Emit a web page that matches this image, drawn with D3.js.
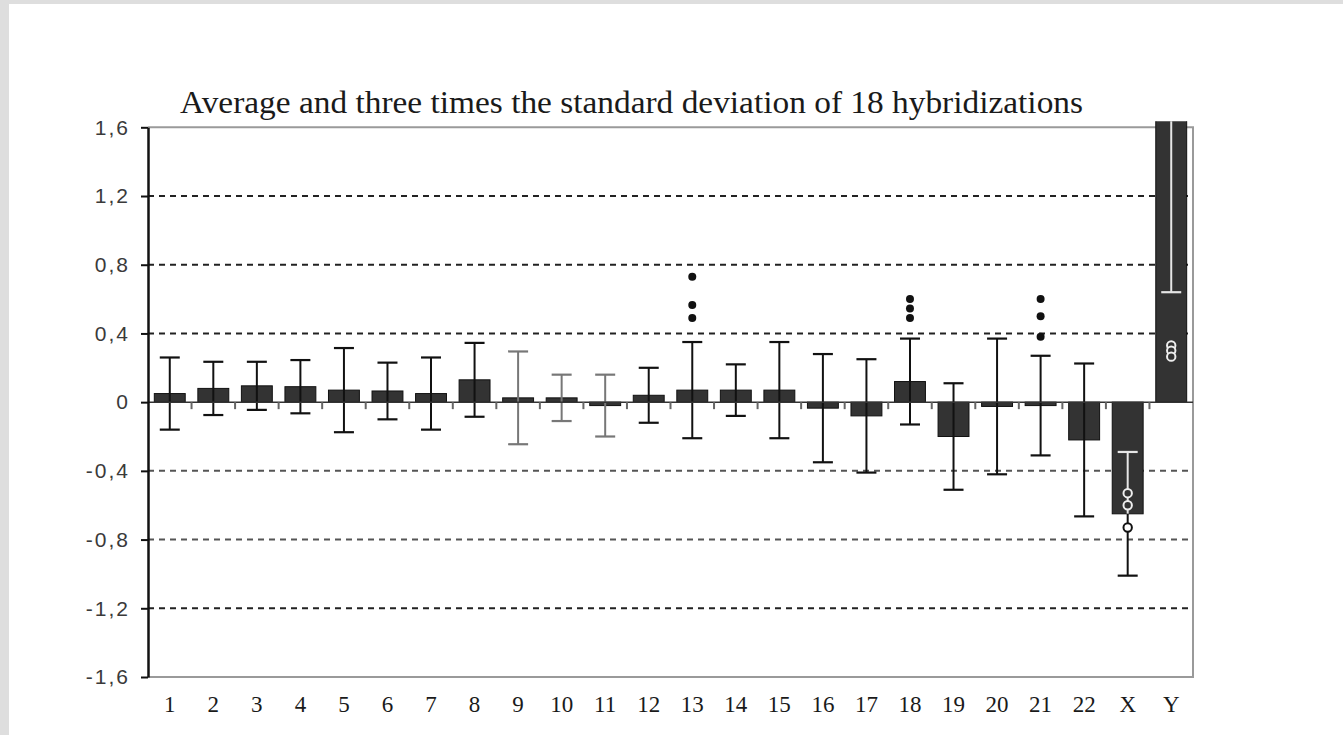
<!DOCTYPE html>
<html>
<head>
<meta charset="utf-8">
<script src="https://cdn.jsdelivr.net/npm/d3@7"></script>
<style>
  body { margin: 0; background: #dedede; }
  svg { display: block; }
</style>
</head>
<body>
<svg id="canvas" width="1343" height="735"></svg>
<script>
let categories = ['1','2','3','4','5','6','7','8','9','10','11','12','13','14','15','16','17','18','19','20','21','22','X','Y'];
// average log ratio per chromosome
let means = [0.05, 0.08, 0.095, 0.09, 0.07, 0.065, 0.05, 0.13, 0.025, 0.025, -0.02, 0.04,
  0.07, 0.07, 0.07, -0.035, -0.08, 0.12, -0.2, -0.025, -0.02, -0.22, -0.65, 1.95];
// three times the standard deviation
let errs = [0.21, 0.155, 0.14, 0.155, 0.245, 0.165, 0.21, 0.215, 0.27, 0.135, 0.18, 0.16,
  0.28, 0.15, 0.28, 0.315, 0.33, 0.25, 0.31, 0.395, 0.29, 0.445, 0.36, 1.31];
// single hybridizations outside the range
let outlierCats = ['13','13','13','18','18','18','21','21','21','X','X','X','Y','Y','Y'];
let outlierValues = [0.73, 0.565, 0.49, 0.6, 0.545, 0.49, 0.6, 0.5, 0.38, -0.53, -0.6, -0.73, 0.33, 0.3, 0.265];
let yTicks = [-1.6, -1.2, -0.8, -0.4, 0, 0.4, 0.8, 1.2, 1.6];
let title = 'Average and three times the standard deviation of 18 hybridizations';

let plotLeft = 148, plotRight = 1193, plotTop = 127.3, plotBottom = 677;

let canvas = d3.select('#canvas');

// page background
canvas.append('rect').attr('x', 9).attr('y', 4).attr('width', 1343).attr('height', 735).attr('fill', '#fff');

let x = d3.scaleBand().domain(categories).range([plotLeft, plotRight]).paddingInner(0.29).paddingOuter(0.145);
let y = d3.scaleLinear().domain([-1.6, 1.6]).range([plotBottom, plotTop]);

let data = categories.map((c, i) => ({ cat: c, mean: means[i], err: errs[i] }));
let outliers = outlierCats.map((c, i) => ({ cat: c, value: outlierValues[i] }));

canvas.append('clipPath').attr('id', 'clip')
  .append('rect').attr('x', plotLeft).attr('y', plotTop - 6)
  .attr('width', plotRight - plotLeft).attr('height', plotBottom - plotTop + 6);

// title
canvas.append('text')
  .attr('x', 180).attr('y', 113)
  .attr('font-family', '"Liberation Serif", "Times New Roman", serif')
  .attr('font-size', 32)
  .attr('textLength', 903)
  .attr('lengthAdjust', 'spacingAndGlyphs')
  .attr('fill', '#1a1a1a')
  .text(title);

// dashed grid lines
canvas.selectAll('.grid')
  .data(yTicks.filter(d => d !== 0 && Math.abs(d) < 1.6))
  .enter()
  .append('line')
  .attr('class', 'grid')
  .attr('x1', plotLeft).attr('x2', plotRight)
  .attr('y1', d => y(d)).attr('y2', d => y(d))
  .attr('stroke', d => (d < 0 && d > -1) ? '#555' : '#222')
  .attr('stroke-width', 2)
  .attr('stroke-dasharray', '6,5');

// frame
canvas.append('path')
  .attr('d', `M${plotLeft},${plotTop}H${plotRight}V${plotBottom}H${plotLeft}`)
  .attr('fill', 'none')
  .attr('stroke', '#9a9a9a')
  .attr('stroke-width', 2);

let plot = canvas.append('g').attr('clip-path', 'url(#clip)');

// bars
plot.selectAll('.bar')
  .data(data)
  .enter()
  .append('rect')
  .attr('class', 'bar')
  .attr('x', d => x(d.cat))
  .attr('width', x.bandwidth())
  .attr('y', d => y(Math.max(0, d.mean)))
  .attr('height', d => Math.abs(y(d.mean) - y(0)))
  .attr('fill', '#333')
  .attr('stroke', '#111')
  .attr('stroke-width', 1);

// zero line with ticks between chromosomes
canvas.append('line')
  .attr('x1', plotLeft).attr('x2', plotRight)
  .attr('y1', y(0)).attr('y2', y(0))
  .attr('stroke', '#333').attr('stroke-width', 1.5);
canvas.selectAll('.ztick')
  .data(categories.slice(1))
  .enter()
  .append('line')
  .attr('class', 'ztick')
  .attr('x1', d => x(d) - x.step() * x.paddingInner() / 2)
  .attr('x2', d => x(d) - x.step() * x.paddingInner() / 2)
  .attr('y1', y(0)).attr('y2', y(0) + 7)
  .attr('stroke', '#666').attr('stroke-width', 2);

// error bars
let lightErr = ['9', '10', '11'];
let errGroup = plot.selectAll('.err')
  .data(data)
  .enter()
  .append('g')
  .attr('class', 'err');

errGroup.each(function (d) {
  let g = d3.select(this);
  let cx = x(d.cat) + x.bandwidth() / 2;
  let lo = d.mean - d.err, hi = d.mean + d.err;
  let dark = lightErr.includes(d.cat) ? '#777' : '#111';
  let big = Math.abs(d.mean) > 0.5;
  let segs = [];
  if (big) {
    // the part inside a tall column is drawn light
    let inner = d.mean > 0 ? [Math.max(lo, 0), d.mean] : [d.mean, Math.min(hi, 0)];
    segs.push({ a: inner[0], b: inner[1], c: '#e6e6e6' });
    if (d.mean < 0 && lo < d.mean) segs.push({ a: lo, b: d.mean, c: dark });
    if (d.mean > 0 && hi > d.mean) segs.push({ a: d.mean, b: hi, c: dark });
  } else {
    segs.push({ a: lo, b: hi, c: dark });
  }
  segs.forEach(s => {
    g.append('line')
      .attr('x1', cx).attr('x2', cx)
      .attr('y1', y(s.a)).attr('y2', y(s.b))
      .attr('stroke', s.c).attr('stroke-width', 2);
  });
  [lo, hi].forEach(v => {
    let inside = big && ((d.mean > 0 && v > 0 && v < d.mean) || (d.mean < 0 && v < 0 && v > d.mean));
    g.append('line')
      .attr('x1', cx - 10).attr('x2', cx + 10)
      .attr('y1', y(v)).attr('y2', y(v))
      .attr('stroke', inside ? '#e6e6e6' : dark).attr('stroke-width', 2.2);
  });
});

// outliers
let meanOf = c => means[categories.indexOf(c)];
let insideBar = d => {
  let m = meanOf(d.cat);
  return m > 0 ? d.value < m : d.value > m;
};
plot.selectAll('.out')
  .data(outliers)
  .enter()
  .append('circle')
  .attr('class', 'out')
  .attr('cx', d => x(d.cat) + x.bandwidth() / 2)
  .attr('cy', d => y(d.value))
  .attr('r', d => Math.abs(meanOf(d.cat)) > 0.5 ? 4.2 : 4)
  .attr('fill', d => {
    if (Math.abs(meanOf(d.cat)) <= 0.5) return '#111';
    return insideBar(d) ? '#333' : '#fff';
  })
  .attr('stroke', d => {
    if (Math.abs(meanOf(d.cat)) <= 0.5) return '#111';
    return insideBar(d) ? '#eee' : '#111';
  })
  .attr('stroke-width', d => Math.abs(meanOf(d.cat)) > 0.5 ? 2 : 0);

// left axis
let yAxis = d3.axisLeft(y)
  .tickValues(yTicks)
  .tickSize(7)
  .tickSizeOuter(0)
  .tickPadding(11)
  .tickFormat(d => d === 0 ? '0' : d.toFixed(1).replace('.', ','));

let ya = canvas.append('g')
  .attr('transform', `translate(${plotLeft},0)`)
  .call(yAxis);
ya.select('.domain').attr('stroke', '#111').attr('stroke-width', 2.5);
ya.selectAll('.tick line').attr('stroke', '#111').attr('stroke-width', 2);
ya.selectAll('.tick text')
  .attr('font-family', '"Liberation Sans", Arial, sans-serif')
  .attr('font-size', 21)
  .attr('letter-spacing', 2)
  .attr('fill', '#3a3a3a');

// category labels
let xAxis = d3.axisBottom(x).tickSize(0).tickPadding(19);
let xa = canvas.append('g')
  .attr('transform', `translate(0,${plotBottom})`)
  .call(xAxis);
xa.select('.domain').remove();
xa.selectAll('.tick text')
  .attr('font-family', '"Liberation Serif", "Times New Roman", serif')
  .attr('font-size', 23)
  .attr('fill', '#1a1a1a');
</script>
</body>
</html>
